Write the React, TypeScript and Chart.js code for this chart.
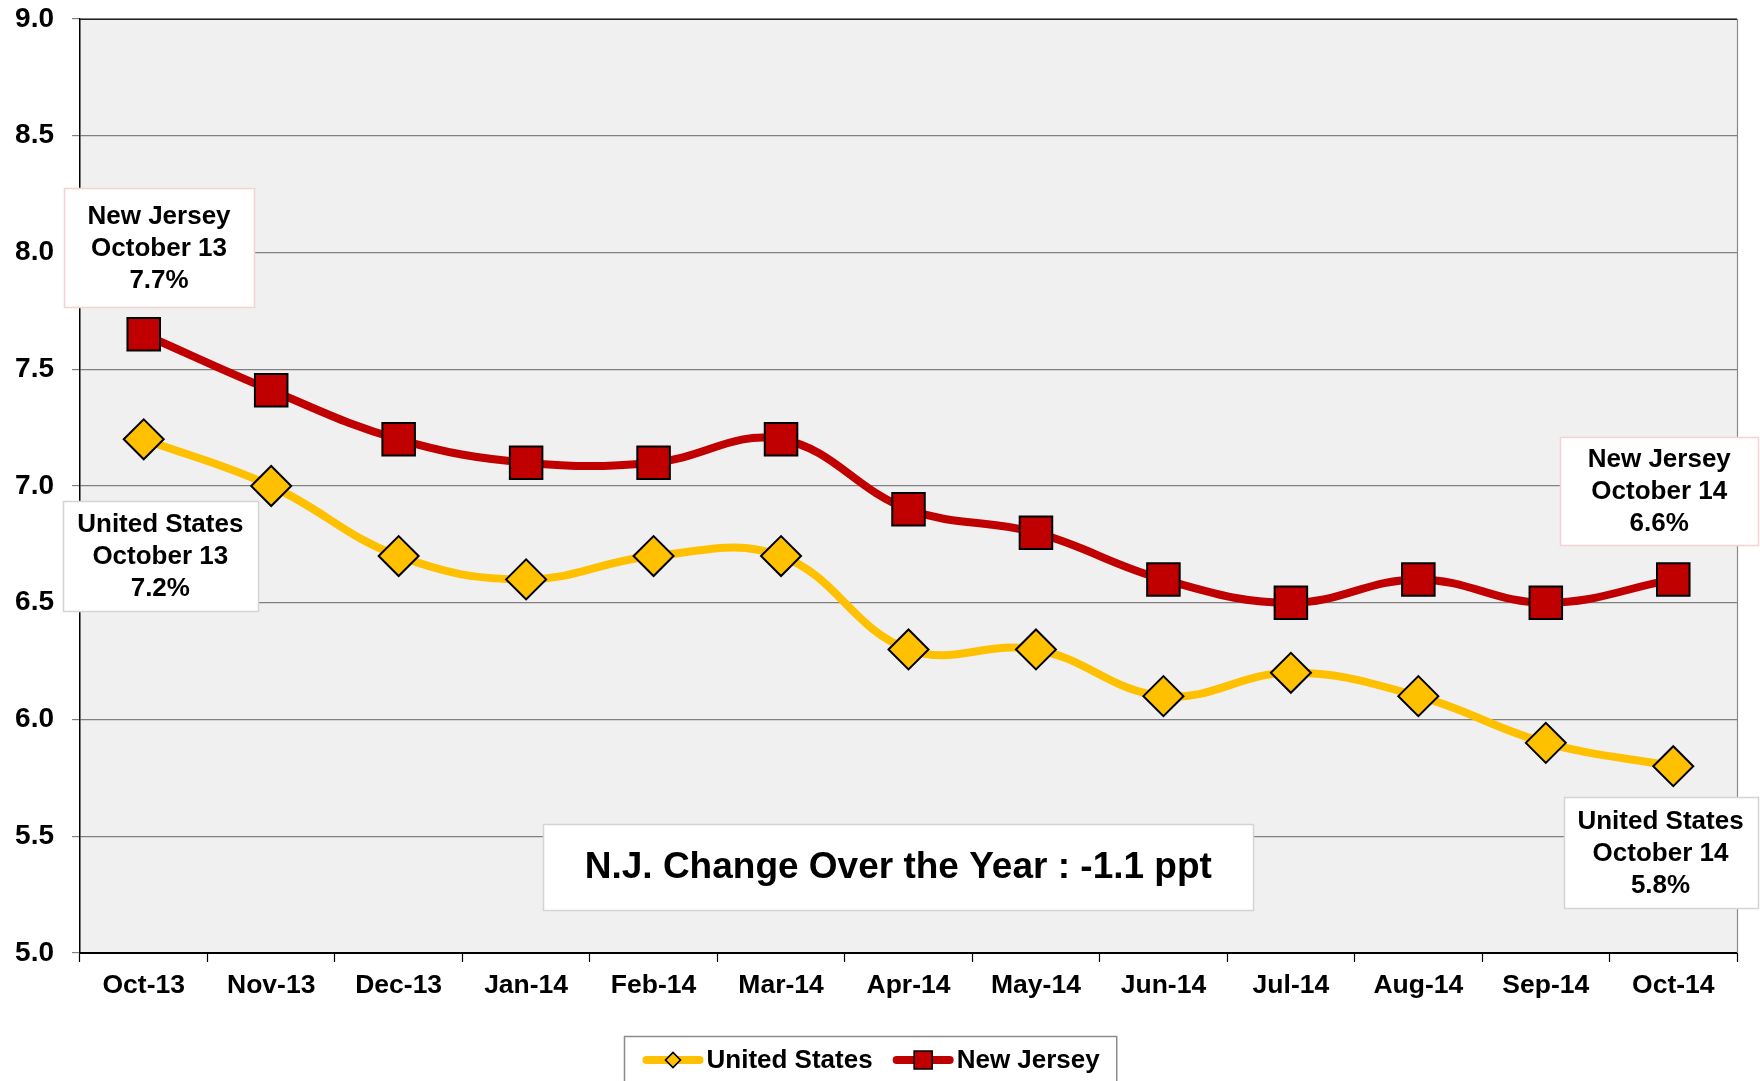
import React, { useEffect, useRef } from "react";
import { Chart, registerables } from "chart.js";

Chart.register(...registerables);

// ---- Data ----
const categories = [
  "Oct-13", "Nov-13", "Dec-13", "Jan-14", "Feb-14", "Mar-14", "Apr-14",
  "May-14", "Jun-14", "Jul-14", "Aug-14", "Sep-14", "Oct-14",
];
const usValues = [7.2, 7.0, 6.7, 6.6, 6.7, 6.7, 6.3, 6.3, 6.1, 6.2, 6.1, 5.9, 5.8];
const njValues = [7.65, 7.41, 7.2, 7.1, 7.1, 7.2, 6.9, 6.8, 6.6, 6.5, 6.6, 6.5, 6.6];
const seriesLabels = ["United States", "New Jersey"];
const yMin = 5.0;
const yMax = 9.0;
const yStep = 0.5;

const calloutTexts = [
  ["New Jersey", "October 13", "7.7%"],
  ["United States", "October 13", "7.2%"],
  ["New Jersey", "October 14", "6.6%"],
  ["United States", "October 14", "5.8%"],
];
const summaryText = "N.J. Change Over the Year : -1.1 ppt";

// ---- Styles / layout (not data) ----
const FONT = "'Liberation Sans', Arial, sans-serif";
const US_COLOR = "#FFC000";
const NJ_COLOR = "#C00000";
const PLOT_BG = "#F0F0F0";

// callout placement in value space (x = category index, y = value), with box size
const calloutLayout = [
  { x: 0.12, y: 8.02, w: 190, h: 119, border: "#F2D2D2" },
  { x: 0.13, y: 6.7, w: 195, h: 110, border: "#D4D4D4" },
  { x: 11.89, y: 6.98, w: 198, h: 108, border: "#F2D2D2" },
  { x: 11.9, y: 5.43, w: 194, h: 111, border: "#D4D4D4" },
];
const summaryLayout = { x: 5.92, y: 5.37, w: 710, h: 86, border: "#D4D4D4" };

const overlayPlugin = {
  id: "overlay",
  beforeDraw(chart: any) {
    const { ctx, chartArea } = chart;
    ctx.save();
    ctx.fillStyle = "#FFFFFF";
    ctx.fillRect(0, 0, chart.width, chart.height);
    ctx.fillStyle = PLOT_BG;
    ctx.fillRect(chartArea.left, chartArea.top, chartArea.right - chartArea.left, chartArea.bottom - chartArea.top);
    ctx.restore();
  },
  afterDraw(chart: any) {
    const { ctx, chartArea } = chart;
    const xs = chart.scales.x;
    const ys = chart.scales.y;
    ctx.save();
    // plot border top/right
    ctx.strokeStyle = "#222";
    ctx.lineWidth = 1.2;
    ctx.beginPath();
    ctx.moveTo(chartArea.left, chartArea.top + 0.5);
    ctx.lineTo(chartArea.right, chartArea.top + 0.5);
    ctx.stroke();
    ctx.strokeStyle = "#8A8A8A";
    ctx.beginPath();
    ctx.moveTo(chartArea.right + 0.5, chartArea.top);
    ctx.lineTo(chartArea.right + 0.5, chartArea.bottom);
    ctx.stroke();

    // callouts
    ctx.textAlign = "center";
    ctx.textBaseline = "middle";
    calloutLayout.forEach((lay, i) => {
      const cx = xs.getPixelForValue(lay.x);
      const cy = ys.getPixelForValue(lay.y);
      const left = Math.round(cx - lay.w / 2) + 0.5;
      const top = Math.round(cy - lay.h / 2) + 0.5;
      ctx.fillStyle = "#FFFFFF";
      ctx.fillRect(left, top, lay.w, lay.h);
      ctx.strokeStyle = lay.border;
      ctx.lineWidth = 1.5;
      ctx.strokeRect(left, top, lay.w, lay.h);
      ctx.fillStyle = "#000";
      ctx.font = `bold 26px ${FONT}`;
      const lines = calloutTexts[i];
      const lh = 32;
      lines.forEach((t, j) => {
        ctx.fillText(t, cx, cy + (j - (lines.length - 1) / 2) * lh + 1);
      });
    });

    // summary box
    {
      const cx = xs.getPixelForValue(summaryLayout.x);
      const cy = ys.getPixelForValue(summaryLayout.y);
      const left = Math.round(cx - summaryLayout.w / 2) + 0.5;
      const top = Math.round(cy - summaryLayout.h / 2) + 0.5;
      ctx.fillStyle = "#FFFFFF";
      ctx.fillRect(left, top, summaryLayout.w, summaryLayout.h);
      ctx.strokeStyle = summaryLayout.border;
      ctx.lineWidth = 1.5;
      ctx.strokeRect(left, top, summaryLayout.w, summaryLayout.h);
      ctx.fillStyle = "#000";
      ctx.font = `bold 37px ${FONT}`;
      ctx.fillText(summaryText, cx, cy + 1);
    }

    // legend
    const datasets = chart.data.datasets;
    ctx.font = `bold 26px ${FONT}`;
    const widths = datasets.map((d: any) => ctx.measureText(d.label).width);
    const padL = 18, lineW = 61, gap1 = 3, gap2 = 20, padR = 17;
    const total = padL + padR + widths.reduce((a: number, w: number) => a + w + lineW + gap1, 0) + gap2 * (datasets.length - 1);
    const boxLeft = Math.round(chart.width / 2 - 10 - total / 2) + 0.5;
    const boxTop = 1036.5;
    ctx.strokeStyle = "#8C8C8C";
    ctx.lineWidth = 1.5;
    ctx.strokeRect(boxLeft, boxTop, total, 80);
    const ly = 1060;
    let x = boxLeft + padL;
    datasets.forEach((d: any, i: number) => {
      ctx.strokeStyle = d.borderColor;
      ctx.lineWidth = 8;
      ctx.lineCap = "round";
      ctx.beginPath();
      ctx.moveTo(x + 4, ly);
      ctx.lineTo(x + lineW - 4, ly);
      ctx.stroke();
      const mx = x + lineW / 2;
      ctx.fillStyle = d.pointBackgroundColor;
      ctx.strokeStyle = "#000";
      ctx.lineWidth = 1.6;
      ctx.lineCap = "butt";
      ctx.beginPath();
      if (d.pointStyle === "rectRot") {
        const r = 7.5;
        ctx.moveTo(mx - r, ly);
        ctx.lineTo(mx, ly - r);
        ctx.lineTo(mx + r, ly);
        ctx.lineTo(mx, ly + r);
        ctx.closePath();
      } else {
        const s = 9;
        ctx.rect(mx - s, ly - s, 2 * s, 2 * s);
      }
      ctx.fill();
      ctx.stroke();
      ctx.fillStyle = "#000";
      ctx.textAlign = "left";
      ctx.fillText(d.label, x + lineW + gap1, ly + 1);
      x += lineW + gap1 + widths[i] + gap2;
    });
    ctx.restore();
  },
};

export default function App() {
  const canvasRef = useRef<HTMLCanvasElement | null>(null);

  useEffect(() => {
    document.body.style.margin = "0";
    const canvas = canvasRef.current;
    if (!canvas) return;
    const chart = new Chart(canvas, {
      type: "line",
      data: {
        labels: categories,
        datasets: [
          {
            label: seriesLabels[0],
            data: usValues,
            borderColor: US_COLOR,
            backgroundColor: US_COLOR,
            borderWidth: 8,
            tension: 0.4,
            pointStyle: "rectRot",
            pointRadius: 20,
            pointHoverRadius: 20,
            pointBackgroundColor: US_COLOR,
            pointBorderColor: "#000",
            pointBorderWidth: 2,
            fill: false,
          },
          {
            label: seriesLabels[1],
            data: njValues,
            borderColor: NJ_COLOR,
            backgroundColor: NJ_COLOR,
            borderWidth: 8,
            tension: 0.4,
            pointStyle: "rect",
            pointRadius: 23,
            pointHoverRadius: 23,
            pointBackgroundColor: NJ_COLOR,
            pointBorderColor: "#000",
            pointBorderWidth: 2,
            fill: false,
          },
        ],
      },
      options: {
        responsive: false,
        animation: false,
        events: [],
        layout: { autoPadding: false, padding: { top: 19, right: 23, left: 0, bottom: 0 } },
        plugins: {
          legend: { display: false },
          tooltip: { enabled: false },
          title: { display: false },
        },
        scales: {
          x: {
            type: "category",
            offset: true,
            grid: {
              offset: true,
              drawOnChartArea: false,
              drawTicks: true,
              tickLength: 9,
              tickColor: "#000",
              tickWidth: 1.2,
            },
            border: { color: "#000", width: 2 },
            ticks: {
              color: "#000",
              font: { family: FONT, size: 26.5, weight: "bold" },
              padding: 8,
              maxRotation: 0,
              autoSkip: false,
            },
            afterFit(scale: any) {
              scale.height = 128;
              scale.paddingLeft = 0;
              scale.paddingRight = 0;
            },
          },
          y: {
            min: yMin,
            max: yMax,
            grid: {
              color: "#808080",
              lineWidth: 1.2,
              tickLength: 8,
              drawTicks: true,
            },
            border: { color: "#000", width: 1.5 },
            ticks: {
              stepSize: yStep,
              color: "#000",
              font: { family: FONT, size: 28, weight: "bold" },
              padding: 18,
              callback: (v: any) => Number(v).toFixed(1),
            },
            afterFit(scale: any) {
              scale.width = 80;
              scale.paddingTop = 0;
              scale.paddingBottom = 0;
            },
          },
        },
      },
      plugins: [overlayPlugin],
    });
    return () => chart.destroy();
  }, []);

  return (
    <div style={{ position: "absolute", left: 0, top: 0, width: 1760, height: 1081 }}>
      <canvas ref={canvasRef} width={1760} height={1081} style={{ display: "block" }} />
    </div>
  );
}
